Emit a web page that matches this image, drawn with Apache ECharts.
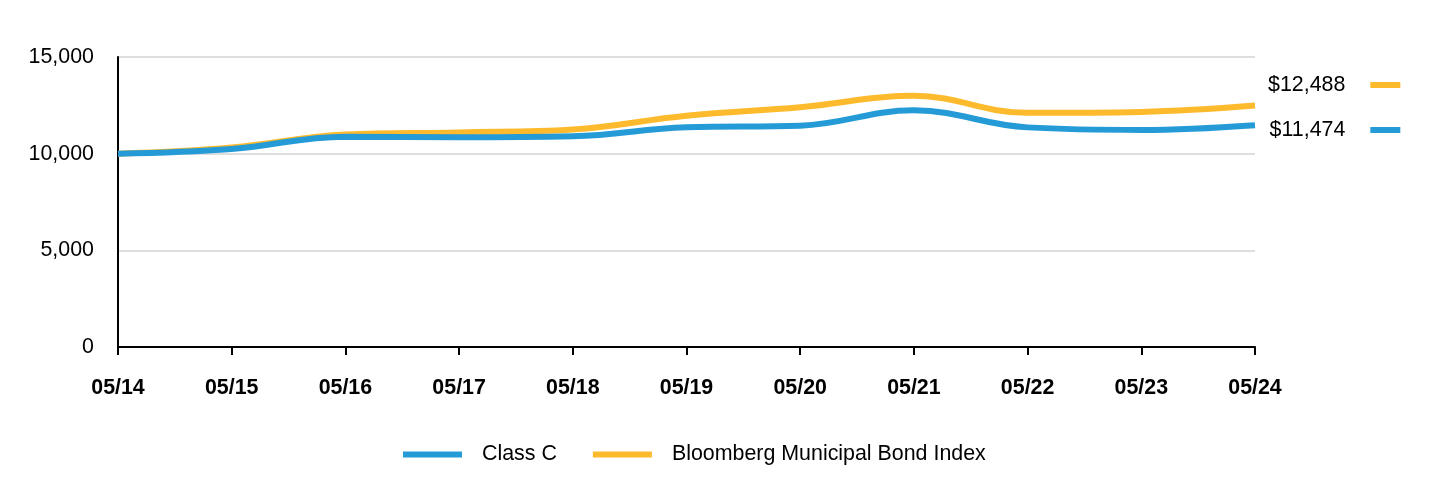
<!DOCTYPE html>
<html>
<head>
<meta charset="utf-8">
<script src="https://cdn.jsdelivr.net/npm/echarts@6/dist/echarts.min.js"></script>
<style>
html,body{margin:0;padding:0;background:#fff;}
#chart{width:1440px;height:492px;}
</style>
</head>
<body>
<div id="chart"></div>
<script>
const categories = ['05/14','05/15','05/16','05/17','05/18','05/19','05/20','05/21','05/22','05/23','05/24'];
const classC = [10000, 10240, 10880, 10850, 10900, 11370, 11450, 12240, 11360, 11230, 11474];
const bloomberg = [10000, 10320, 10990, 11100, 11250, 11960, 12400, 12990, 12110, 12160, 12488];
const seriesNames = ['Class C', 'Bloomberg Municipal Bond Index'];
const endLabels = {'Class C': '$11,474', 'Bloomberg Municipal Bond Index': '$12,488'};
const yTicks = {min: 0, max: 15000, interval: 5000};

const BLUE = '#249BD7';
const YELLOW = '#FDBA2C';
const FONT = 'Liberation Sans, Arial, sans-serif';
const FS = 21.4;

const chart = echarts.init(document.getElementById('chart'), null, {renderer: 'canvas'});
chart.setOption({
  animation: false,
  grid: {left: 118, right: 185, top: 57, bottom: 145, containLabel: false},
  xAxis: {
    type: 'category',
    data: categories,
    boundaryGap: false,
    axisLine: {show: true, lineStyle: {color: '#000', width: 2}},
    axisTick: {show: true, length: 8, alignWithLabel: true, lineStyle: {color: '#000', width: 2}},
    axisLabel: {color: '#000', fontSize: FS, fontWeight: 'bold', fontFamily: FONT, margin: 31},
    splitLine: {show: false}
  },
  yAxis: {
    type: 'value',
    min: yTicks.min, max: yTicks.max, interval: yTicks.interval,
    axisLine: {show: true, lineStyle: {color: '#000', width: 2}},
    axisTick: {show: false},
    axisLabel: {color: '#000', fontSize: FS, fontFamily: FONT, margin: 24,
      formatter: v => v.toLocaleString('en-US')},
    splitLine: {show: true, lineStyle: {color: '#dedede', width: 2}}
  },
  legend: [
    {
      data: seriesNames,
      bottom: 22,
      left: 398,
      itemWidth: 59,
      itemHeight: 6,
      itemGap: 36,
      icon: 'rect',
      textStyle: {color: '#000', fontSize: FS, fontFamily: FONT, padding: [0, 0, 0, 15]}
    },
    {
      data: [seriesNames[1], seriesNames[0]],
      orient: 'vertical',
      left: 1263,
      top: 68,
      align: 'right',
      itemWidth: 30,
      itemHeight: 6,
      itemGap: 21,
      icon: 'rect',
      formatter: name => endLabels[name],
      textStyle: {color: '#000', fontSize: FS, fontFamily: FONT, lineHeight: 24, padding: [0, 20, 0, 0]}
    }
  ],
  series: [
    {
      name: seriesNames[0],
      type: 'line',
      data: classC,
      smooth: 0.4,
      symbol: 'none',
      z: 3,
      color: BLUE,
      lineStyle: {color: BLUE, width: 6}
    },
    {
      name: seriesNames[1],
      type: 'line',
      data: bloomberg,
      smooth: 0.4,
      symbol: 'none',
      z: 2,
      color: YELLOW,
      lineStyle: {color: YELLOW, width: 6}
    }
  ]
});
</script>
</body>
</html>
